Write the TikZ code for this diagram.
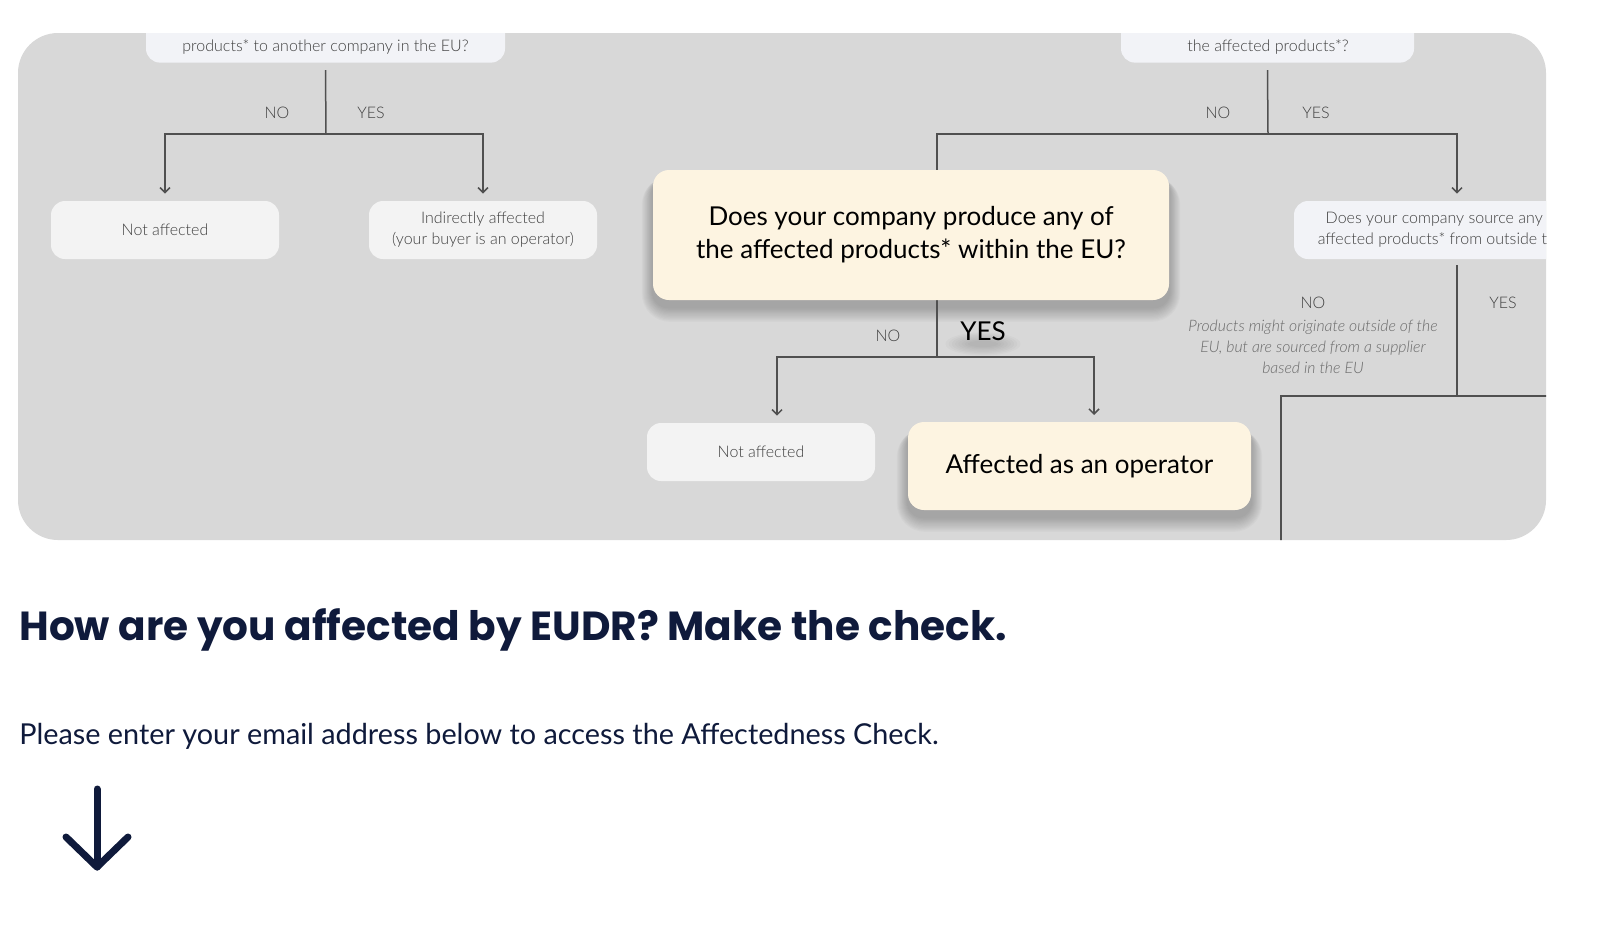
\documentclass[tikz,border=0pt]{standalone}
\usepackage{fontspec}
\setmainfont{Lato}
\newfontfamily\latolight{Lato}[UprightFont={* Light}, ItalicFont={* Light Italic}]
\newfontfamily\headfont{Poppins}
\usetikzlibrary{arrows.meta,calc}
\definecolor{panel}{HTML}{D8D8D8}
\definecolor{boxgray}{HTML}{F3F3F3}
\definecolor{qgray}{HTML}{F2F3F7}
\definecolor{cream}{HTML}{FDF4E1}
\definecolor{linegray}{HTML}{505050}
\definecolor{textgray}{HTML}{3F3F3F}
\definecolor{italgray}{HTML}{6A6A6A}
\definecolor{navy}{HTML}{0F1A3B}
\pgfdeclarelayer{base}
\pgfdeclarelayer{shadow}
\pgfsetlayers{base,shadow,main}
\tikzset{
  smallfont/.style={font=\latolight\fontsize{8}{10.5}\selectfont},
  smallbox/.style={smallfont, rounded corners=7pt, fill=boxgray, minimum width=114pt, minimum height=29pt, align=center, text=textgray, inner sep=0pt},
  qbox/.style={smallbox, fill=qgray},
  bigbox/.style={font=\fontsize{13}{16.5}\selectfont, rounded corners=8pt, fill=cream, align=center, text=black, inner sep=0pt},
  lbl/.style={smallfont, text=textgray, inner sep=0pt},
  conn/.style={draw=linegray, line width=0.75pt},
  arr/.style={conn, -{Straight Barb[length=2.5pt,width=5pt]}, shorten >=3.5pt},
  shadowlayer/.style={black, opacity=0.02},
}
\newcommand{\boxshadow}[1]{%
  \begin{pgfonlayer}{shadow}
  \foreach \i [evaluate=\i as \e using 0.45*\i, evaluate=\i as \d using 0.6*\i, evaluate=\i as \rc using 8+0.5*\i] in {1,...,12}{
    \fill[shadowlayer, rounded corners=\rc pt] ($(#1.south west)+(-\e pt,-3.5pt-\d pt)$) rectangle ($(#1.north east)+(\e pt,-3.5pt)$);
  }
  \end{pgfonlayer}}
\begin{document}
\begin{tikzpicture}[x=0.5pt,y=-0.5pt]
\useasboundingbox (0,0) rectangle (1622,949);
\begin{pgfonlayer}{base}
\fill[white] (0,0) rectangle (1622,949);
\fill[panel, rounded corners=20pt] (18,33) rectangle (1546,540);
\end{pgfonlayer}
\begin{scope}
\path[clip, rounded corners=20pt] (18,33) rectangle (1546,540);
% junction coordinates
\coordinate (j1) at (326,134);
\coordinate (j2) at (1268,134);
\coordinate (j3) at (937,357);
\coordinate (j4) at (1457,396);
\coordinate (k4) at (1281,396);
\coordinate (k4b) at (1281,570);
\coordinate (k4r) at (1600,396);
% boxes (top, clipped)
\node[qbox, minimum width=179.5pt, minimum height=40pt, anchor=south] (q1) at (325.5,63) {};
\node[lbl] (q1t) at (325.5,47) {products* to another company in the EU?};
\node[qbox, minimum width=146.5pt, minimum height=40pt, anchor=south] (q2) at (1267.5,63) {};
\node[lbl] (q2t) at (1268,47) {the affected products*?};
% lower boxes
\node[smallbox] (na1) at (165,230) {Not affected};
\node[smallbox] (ind) at (483,230) {Indirectly affected\\(your buyer is an operator)};
\node[qbox, minimum width=163pt] (q4) at (1457,230) {Does your company source any of the\\affected products* from outside the EU?};
\node[smallbox] (na2) at (761,452) {Not affected};
% connectors
\draw[conn] ([yshift=-3.5pt]q1.south) -- (j1);
\draw[arr] (j1) -| (na1.north);
\draw[arr] (j1) -| (ind.north);
\draw[conn] ([yshift=-3.5pt]q2.south) -- (j2);
\draw[conn] (j2) -| (937,175);
\draw[arr] (j2) -| (q4.north);
\draw[conn] (937,295) -- (j3);
\draw[arr] (j3) -| ($(na2.north)+(16,0)$);
\draw[arr] (j3) -| (1094,422);
\draw[conn] ([yshift=-3pt]q4.south) -- (j4);
\draw[conn] (k4r) -- (j4) -- (k4) -- (k4b);
% cream boxes
\node[bigbox, minimum width=258pt, minimum height=65pt] (q3) at (911,235) {Does your company produce any of\\the affected products* within the EU?};
\node[bigbox, minimum width=171.5pt, minimum height=44pt] (op) at (1079.5,466) {Affected as an operator};
% labels
\node[lbl] (l1n) at (277,113) {NO};
\node[lbl] (l1y) at (371,113) {YES};
\node[lbl] (l2n) at (1218,113) {NO};
\node[lbl] (l2y) at (1316,113) {YES};
\node[lbl] (l3n) at (888,336) {NO};
\node[inner sep=0pt, font=\fontsize{13}{15}\selectfont, text=black] (l3y) at (983,331) {YES};
\node[lbl] (l4n) at (1313,303) {NO};
\node[lbl] (l4y) at (1503,303) {YES};
\node[inner sep=0pt, align=center, text=italgray, font=\latolight\fontsize{7.9}{10.5}\selectfont\itshape] (l4t) at (1313,347) {Products might originate outside of the\\EU, but are sourced from a supplier\\based in the EU};
\end{scope}
% soft shadows
\boxshadow{q3}
\boxshadow{op}
\begin{pgfonlayer}{shadow}
\foreach \i [evaluate=\i as \rx using 6+1.6*\i, evaluate=\i as \ry using 1+0.6*\i] in {1,...,8}{
  \fill[black, opacity=0.02] ($(l3y.south)+(0,-1.5pt)$) ellipse [x radius=\rx pt, y radius=\ry pt];
}
\end{pgfonlayer}
% heading and text
\node[anchor=base west, inner sep=0pt, text=navy, font=\headfont\bfseries\fontsize{20.3}{24}\selectfont] (head) at (19,640) {How are you affected by EUDR? Make the check.};
\node[anchor=base west, inner sep=0pt, text=navy, font=\fontsize{14.4}{17}\selectfont] (para) at (19,744) {Please enter your email address below to access the Affectedness Check.};
% down arrow
\coordinate (a1) at (97,789);
\coordinate (a2) at (97,867);
\draw[navy, line width=3.5pt, line cap=round] (a1) -- (a2);
\draw[navy, line width=3.5pt, line cap=round, line join=round] (66,837) -- (a2) -- (128,837);
\end{tikzpicture}
\end{document}
